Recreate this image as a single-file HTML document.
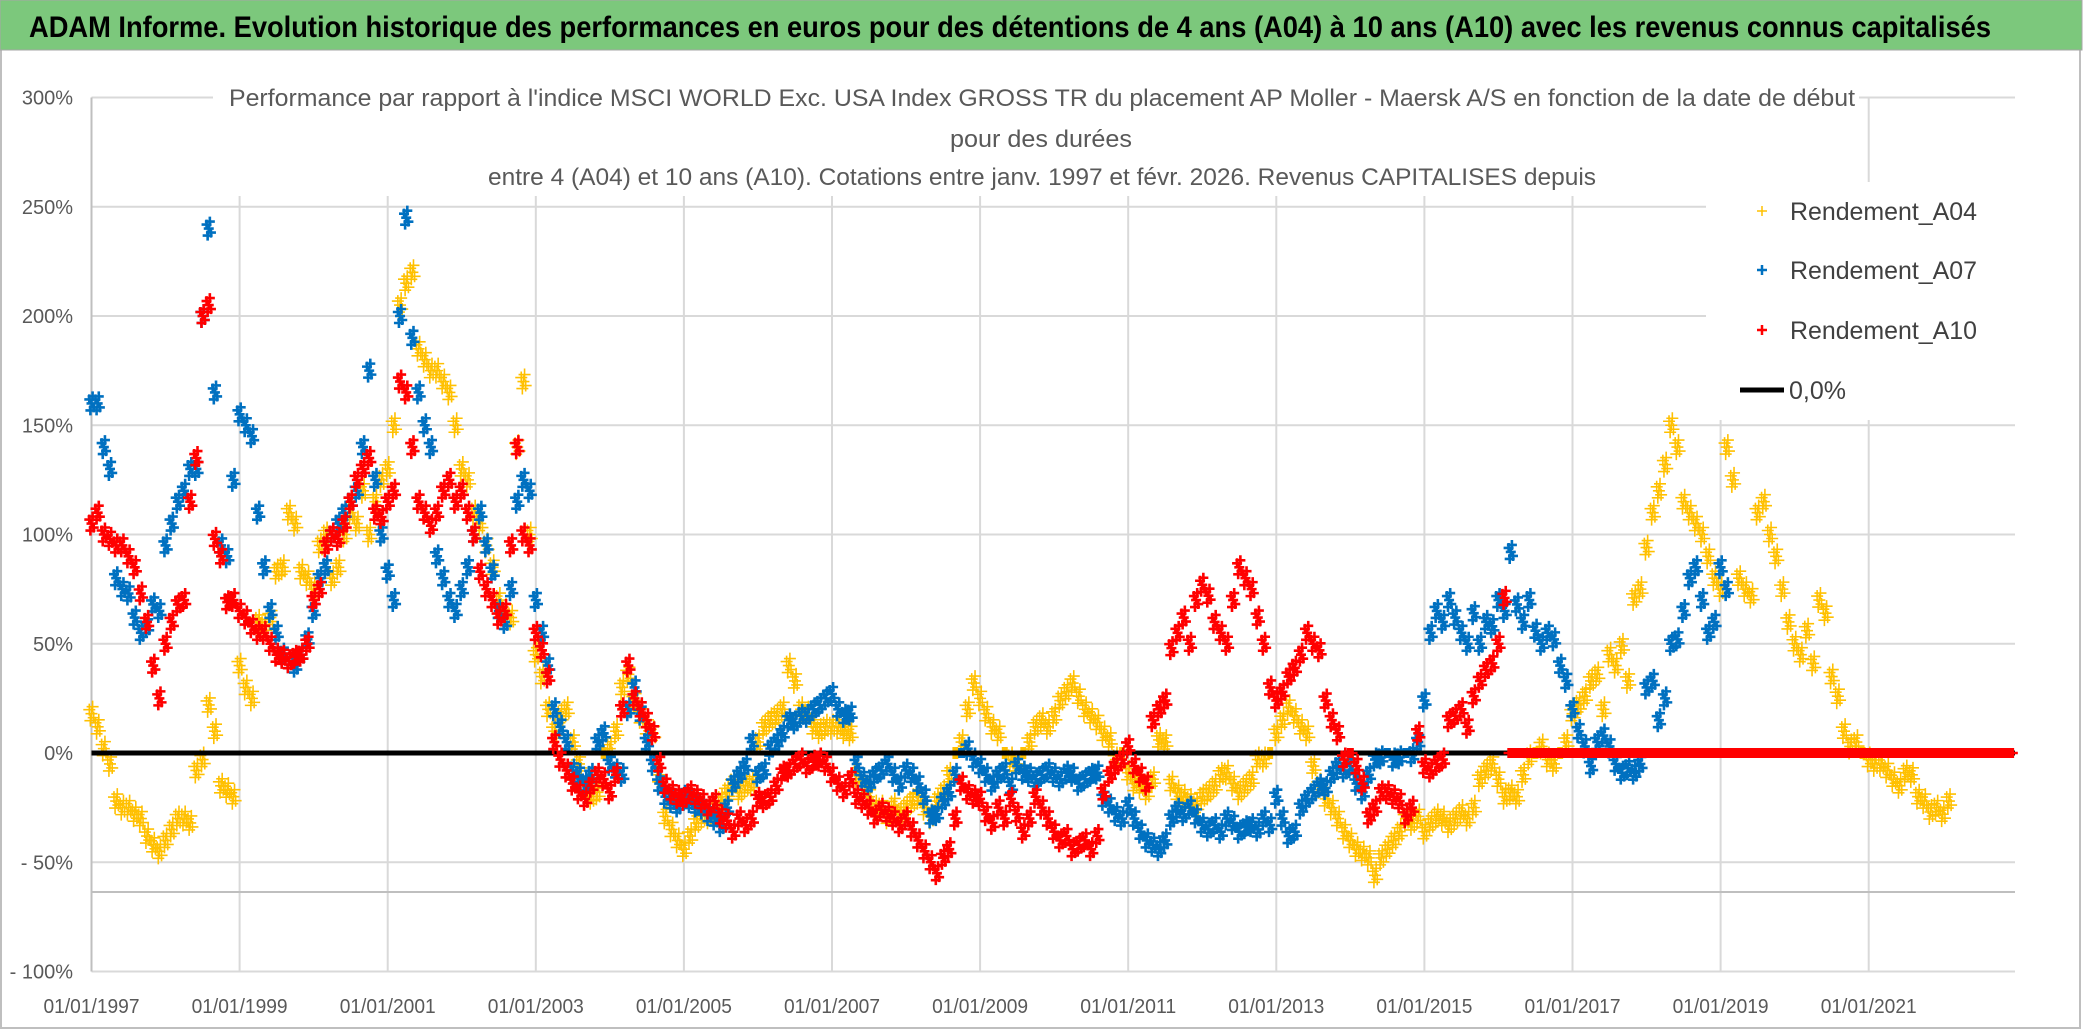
<!DOCTYPE html>
<html><head><meta charset="utf-8">
<style>
html,body{margin:0;padding:0;background:#fff;}
svg{display:block;font-family:"Liberation Sans",sans-serif;}
</style></head>
<body>
<svg id="chart" width="2086" height="1031" viewBox="0 0 2086 1031" xmlns="http://www.w3.org/2000/svg">
  <rect x="0" y="0" width="2086" height="1031" fill="#fff"/>
  <rect x="1" y="1" width="2079" height="1027" fill="none" stroke="#bfbfbf" stroke-width="2"/>
  <rect x="0" y="0" width="2082" height="50" fill="#7cc87c" stroke="#a6a6a6" stroke-width="1"/>
  <text x="29" y="37" font-size="30" font-weight="bold" fill="#000" textLength="1962" lengthAdjust="spacingAndGlyphs">ADAM Informe. Evolution historique des performances en euros pour des détentions de 4 ans (A04) à 10 ans (A10) avec les revenus connus capitalisés</text>
  <g id="grid"></g>
  <g id="marks"></g>
  <rect x="213" y="72" width="1646" height="124" fill="#fff"/>
  <text x="229" y="106" font-size="24" fill="#595959" textLength="1626" lengthAdjust="spacingAndGlyphs">Performance par rapport à l'indice MSCI WORLD Exc. USA Index GROSS TR  du placement AP Moller - Maersk A/S en fonction de la date de début</text>
  <text x="1041" y="147" font-size="24" fill="#595959" text-anchor="middle" textLength="182" lengthAdjust="spacingAndGlyphs">pour des durées</text>
  <text x="488" y="185" font-size="24" fill="#595959" textLength="1108" lengthAdjust="spacingAndGlyphs">entre 4 (A04) et 10 ans (A10). Cotations entre janv. 1997 et févr. 2026. Revenus CAPITALISES depuis</text>
  <g>
    <rect x="1706" y="182" width="310" height="238" fill="#fff"/>
    <g>
      <path d="M1757 211h10M1762 206v10" stroke="#FFC000" stroke-width="1.5"/>
      <text x="1790" y="220" font-size="25" fill="#404040" textLength="187" lengthAdjust="spacingAndGlyphs">Rendement_A04</text>
    </g>
    <g>
      <path d="M1757 270h10M1762 265v10" stroke="#0070C0" stroke-width="2.5"/>
      <text x="1790" y="279" font-size="25" fill="#404040" textLength="187" lengthAdjust="spacingAndGlyphs">Rendement_A07</text>
    </g>
    <g>
      <path d="M1757 330h10M1762 325v10" stroke="#FF0000" stroke-width="2.5"/>
      <text x="1790" y="339" font-size="25" fill="#404040" textLength="187" lengthAdjust="spacingAndGlyphs">Rendement_A10</text>
    </g>
    <g>
      <line x1="1740" y1="390" x2="1784" y2="390" stroke="#000" stroke-width="5"/>
      <text x="1789" y="399" font-size="25" fill="#404040">0,0%</text>
    </g>
  </g>
  <g id="axes"></g>
</svg>
<script>
// ---- data (monthly values, percent) ----
var startYear = 1997;
var yTicks = [300, 250, 200, 150, 100, 50, 0, -50, -100];
var yTickLabels = ["300%", "250%", "200%", "150%", "100%", "50%", "0%", "- 50%", "- 100%"];
var xTickYears = [1997, 1999, 2001, 2003, 2005, 2007, 2009, 2011, 2013, 2015, 2017, 2019, 2021];
var xTickLabels = ["01/01/1997","01/01/1999","01/01/2001","01/01/2003","01/01/2005","01/01/2007","01/01/2009","01/01/2011","01/01/2013","01/01/2015","01/01/2017","01/01/2019","01/01/2021"];
var rendementA04 = [
 18,12,2,-5,-22,-25,-25,-28,-30,-38,-42,-45,
 -40,-35,-30,-30,-32,-8,-3,22,10,-15,-17,-20,
 40,30,25,60,58,62,83,85,110,105,83,80,
 75,95,100,80,85,100,110,105,120,100,115,125,
 130,150,205,215,220,185,180,175,175,170,165,150,
 130,125,110,105,95,85,70,65,62,140,170,100,
 45,35,20,10,17,20,5,-5,-15,-20,-18,0,
 2,10,30,36,24,17,12,9,-10,-29,-35,-40,
 -44,-38,-32,-29,-29,-25,-22,-18,-14,-18,-15,-14,
 5,12,15,17,20,40,33,20,18,12,10,12,
 12,12,10,9,-10,-15,-20,-25,-25,-29,-24,-28,
 -25,-22,-20,-25,-29,-22,-18,-10,0,5,20,32,
 25,18,12,9,0,-3,-5,0,5,12,15,12,
 17,24,28,32,26,20,17,14,9,6,-3,0,
 -9,-14,-15,-18,-12,6,5,-14,-18,-20,-22,-24,
 -20,-18,-15,-10,-9,-14,-18,-15,-12,-3,-3,0,
 9,15,21,17,12,9,-6,-15,-21,-25,-30,-36,
 -40,-44,-46,-48,-56,-48,-44,-40,-36,-30,-32,-29,
 -36,-32,-29,-30,-33,-30,-27,-30,-25,-12,-8,-5,
 -12,-20,-18,-20,-10,-2,0,3,-3,-5,0,5,
 18,22,26,33,36,20,45,40,49,33,71,75,
 94,110,120,132,150,140,115,110,105,100,90,80,
 75,140,125,80,75,72,110,115,100,90,75,60,
 50,45,56,41,70,64,35,26,10,3,5,0,
 -3,-5,-5,-8,-12,-15,-9,-10,-20,-22,-27,-25,
 -28,-22
];
var rendementA07 = [
 160,160,140,130,80,75,73,62,55,58,68,65,
 95,105,115,120,130,130,200,240,165,95,90,125,
 155,150,145,110,85,65,55,45,42,40,45,52,
 65,80,85,100,105,110,115,120,140,175,125,100,
 83,70,200,245,190,165,150,140,90,80,70,65,
 75,85,100,110,95,83,65,60,75,115,125,120,
 70,55,40,20,12,5,-8,-10,-14,-10,5,9,
 -5,-8,-10,20,30,18,5,-5,-14,-20,-22,-24,
 -20,-22,-24,-25,-28,-30,-33,-25,-14,-10,-6,5,
 -10,-8,2,5,9,15,14,17,17,20,22,25,
 27,20,17,18,-5,-12,-14,-10,-8,-5,-10,-14,
 -8,-10,-14,-20,-29,-28,-22,-18,-10,0,2,-3,
 -6,-10,-14,-10,-8,-15,-6,-9,-10,-12,-10,-8,
 -10,-12,-9,-10,-14,-12,-10,-9,-21,-24,-28,-30,
 -24,-30,-36,-40,-42,-44,-40,-30,-26,-28,-25,-29,
 -33,-35,-33,-36,-30,-32,-36,-34,-33,-35,-30,-33,
 -20,-30,-38,-36,-25,-21,-18,-15,-16,-10,-6,-8,
 -6,-14,-18,-10,-3,-2,0,-3,-2,0,-1,5,
 24,55,65,60,70,62,55,50,64,50,60,58,
 70,65,92,68,60,70,56,50,55,52,40,33,
 20,10,3,-6,5,8,3,-5,-9,-7,-9,-5,
 30,33,15,25,50,52,65,80,85,70,55,60,
 85,75
];
var rendementA10 = [
 105,110,100,98,95,95,90,85,73,60,40,25,
 50,60,68,70,115,135,200,205,98,90,69,70,
 65,62,58,55,55,50,45,44,42,44,45,50,
 70,75,95,100,98,105,115,125,130,135,110,108,
 115,120,170,165,140,115,110,104,110,120,125,115,
 120,110,100,83,75,70,62,65,95,140,100,95,
 55,47,35,5,-3,-8,-14,-18,-21,-15,-10,-12,
 -18,-10,20,40,25,20,15,9,-5,-15,-18,-20,
 -21,-18,-20,-22,-25,-22,-29,-31,-36,-30,-33,-30,
 -21,-22,-20,-15,-9,-8,-5,-3,-6,-4,-3,-5,
 -10,-14,-17,-12,-20,-22,-25,-29,-26,-28,-30,-33,
 -30,-35,-40,-45,-50,-55,-48,-44,-30,-14,-18,-20,
 -21,-28,-32,-25,-30,-21,-28,-36,-30,-20,-25,-30,
 -36,-40,-38,-44,-42,-40,-44,-38,-18,-10,-6,-3,
 3,-6,-10,-14,15,20,24,48,55,62,50,70,
 77,72,60,55,50,70,85,80,75,62,50,30,
 24,28,35,39,45,55,50,47,24,15,9,-3,
 0,-6,-14,-29,-25,-18,-18,-20,-22,-29,-25,9,
 -6,-8,-5,-3,15,17,20,12,26,33,38,41,
 50,71,0,0,0,0,0,0,0,0,0,0,
 0,0,0,0,0,0,0,0,0,0,0,0,
 0,0,0,0,0,0,0,0,0,0,0,0,
 0,0,0,0,0,0,0,0,0,0,0,0,
 0,0,0,0,0,0,0,0,0,0,0,0,
 0,0,0,0,0,0,0,0,0,0,0,0,
 0,0,0,0,0,0,0,0,0,0,0,0
];
var zeroLineValue = 0;

// ---- axis functions ----
var PL = 91.5, PR = 2015, PXPY = 74.05;
function xScale(year){ return PL + (year - 1997) * PXPY; }
function yScale(v){ return 753 - v * 2.185; }

var NS = "http://www.w3.org/2000/svg";
function mk(tag, attrs, parent){
  var e = document.createElementNS(NS, tag);
  for (var k in attrs) e.setAttribute(k, attrs[k]);
  parent.appendChild(e);
  return e;
}
var grid = document.getElementById('grid');
var marks = document.getElementById('marks');
var axes = document.getElementById('axes');

yTicks.forEach(function(v, i){
  var y = yScale(v);
  var l = mk('line', {x1: PL, x2: PR, y1: y, y2: y, stroke: '#d9d9d9', 'stroke-width': 2}, grid);
  
  
  var t = mk('text', {x: 73, y: y + 7, 'font-size': 20, fill: '#595959', 'text-anchor': 'end'}, axes);
  t.textContent = yTickLabels[i];
  
  
});
xTickYears.forEach(function(yr, i){
  var x = xScale(yr);
  if (i > 0) {
    var l = mk('line', {x1: x, x2: x, y1: yScale(300), y2: yScale(-100), stroke: '#d9d9d9', 'stroke-width': 2}, grid);
    
    
  }
  var t = mk('text', {x: x, y: 1013, 'font-size': 20, fill: '#595959', 'text-anchor': 'middle', textLength: 96, lengthAdjust: 'spacingAndGlyphs'}, axes);
  t.textContent = xTickLabels[i];
  
  
});
var ex = mk('line', {x1: PL, x2: PR, y1: 892, y2: 892, stroke: '#bfbfbf', 'stroke-width': 2}, grid);


var ax = mk('line', {x1: PL, x2: PL, y1: yScale(300), y2: yScale(-100), stroke: '#bfbfbf', 'stroke-width': 2}, grid);



// each monthly value drawn as a small cluster of "+" markers (dense daily look)
var CLX = [-2.2, 0, 2.2, -1.1, 1.1];
var CLY = [-4, 0, 4, 7, -7];
function drawSeries(vals, color, size, sw, name){
  var g = mk('g', {stroke: color, 'stroke-width': sw, fill: 'none'}, marks);
  
  
  var d = '';
  vals.forEach(function(v, i){
    var x0 = xScale(startYear + i / 12), y0 = yScale(v);
    for (var k = 0; k < CLX.length; k++) {
      var x = x0 + CLX[k], y = y0 + (v === 0 ? 0 : CLY[k]);
      d += 'M' + (x - size) + ' ' + y + 'h' + (2 * size) + 'M' + x + ' ' + (y - size) + 'v' + (2 * size);
    }
  });
  var p = mk('path', {d: d}, g);
  
  
}
drawSeries(rendementA04, '#FFC000', 6, 1.6, 'series-a04');
drawSeries(rendementA07, '#0070C0', 5, 2.6, 'series-a07');
var zl = mk('line', {x1: PL, x2: PR, y1: yScale(zeroLineValue), y2: yScale(zeroLineValue), stroke: '#000', 'stroke-width': 5}, marks);


drawSeries(rendementA10, '#FF0000', 5, 2.6, 'series-a10');
</script>
</body></html>
